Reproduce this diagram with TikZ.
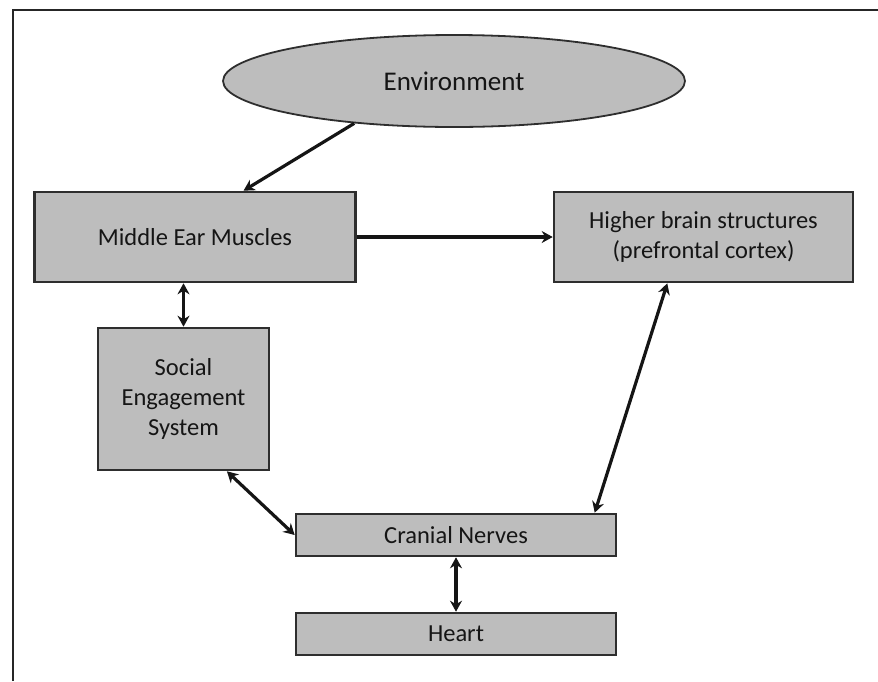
\documentclass[tikz,border=0pt]{standalone}
\usepackage{fontspec}
\setmainfont{Carlito}
\usetikzlibrary{arrows.meta,positioning,calc,shapes.geometric}
\definecolor{ink}{HTML}{151515}
\definecolor{boxgray}{HTML}{BDBDBD}
\definecolor{edge}{HTML}{2E2E2E}
\tikzset{box/.style={draw=edge,fill=boxgray,line width=2.6pt,align=center,inner sep=0pt,text=ink,font=\fontsize{24.5}{30}\selectfont},oval/.style={ellipse,draw=edge,fill=boxgray,line width=1.8pt,inner sep=0pt,text=ink,font=\fontsize{27}{32}\selectfont},arr/.style={->,>={Stealth[length=11pt,width=12pt]},draw=ink,line width=3.2pt},darr/.style={arr,<->},frame/.style={draw=black!85,line width=2.6pt}}

\begin{document}
\begin{tikzpicture}[x=1pt,y=-1pt]
\useasboundingbox (0,0) rectangle (878,681);
\draw[frame] (13,681)|-(878,10);

\node[oval,minimum width=462pt,minimum height=92pt] (env) at (454,81) {Environment};
\node[box,minimum width=321pt,minimum height=90pt] (ear) at (195,237) {Middle Ear Muscles};
\node[box,minimum width=299pt,minimum height=90pt] (brain) at (703.5,237) {Higher brain structures\\(prefrontal cortex)};
\node[box,minimum width=171pt,minimum height=142pt] (social) at (183.5,399) {Social\\Engagement\\System};
\node[box,minimum width=320pt,minimum height=42pt] (nerves) at (456,535) {Cranial Nerves};
\node[box,minimum width=320pt,minimum height=42pt] (heart) at (456,634) {Heart};
\draw[arr] (env.203)--($(ear.north west)!.65!(ear.north east)$);
\draw[arr] (ear)--(brain);
\draw[darr] (ear.south -| social.north)--(social.north);
\draw[darr] ($(brain.south west)!.38!(brain.south east)$)--($(nerves.north west)!.93!(nerves.north east)$);
\draw[darr] ($(social.south west)!.75!(social.south east)$)--(nerves.west);
\draw[darr] (nerves)--(heart);
\end{tikzpicture}
\end{document}
